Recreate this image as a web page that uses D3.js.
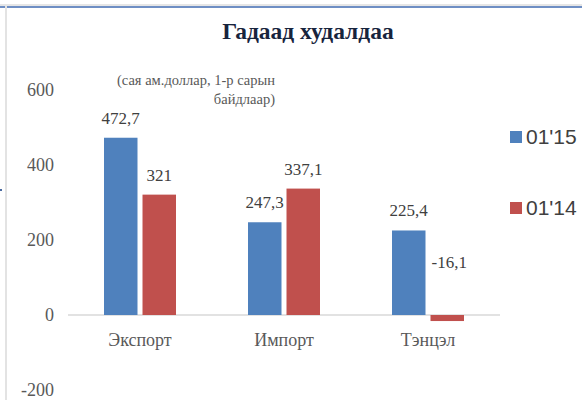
<!DOCTYPE html>
<html>
<head>
<meta charset="utf-8">
<script src="https://cdn.jsdelivr.net/npm/d3@7"></script>
<style>
  body { margin: 0; background: #fff; }
  svg { display: block; }
</style>
</head>
<body>
<svg id="chart" width="582" height="400"></svg>
<script>
const width = 582;
const height = 400;

// chart data
const categories = ["Экспорт", "Импорт", "Тэнцэл"];
const seriesNames = ["01'15", "01'14"];
const values2015 = [472.7, 247.3, 225.4];
const values2014 = [321, 337.1, -16.1];
const yTicks = [-200, 0, 200, 400, 600];
const colors = ["#4f81bd", "#c0504d"];

const serif = "'Liberation Serif', 'Times New Roman', serif";

const svg = d3.select("#chart");

// frame lines (top bar + left edge)
svg.append("rect").attr("x", 0).attr("y", 4).attr("width", width).attr("height", 2).attr("fill", "#e6e6e6");
svg.append("rect").attr("x", 0).attr("y", 6).attr("width", width).attr("height", 2).attr("fill", "#6f8fc4");
svg.append("rect").attr("x", 5).attr("y", 6).attr("width", 2).attr("height", height).attr("fill", "#e3e3e3");
svg.append("rect").attr("x", 0).attr("y", 189).attr("width", 2).attr("height", 2).attr("fill", "#4a6aa0");

const x0 = d3.scaleBand()
    .domain(categories)
    .range([68, 500])
    .padding(0);

const x1 = d3.scaleBand()
    .domain(seriesNames)
    .range([36, 108])
    .paddingInner(0.13);

const y = d3.scaleLinear()
    .domain([-200, 600])
    .range([390, 90]);

// y axis labels only (hyphen minus like the original)
svg.append("g")
    .attr("transform", "translate(54,0)")
    .call(d3.axisLeft(y).tickValues(yTicks).tickSize(0).tickPadding(0).tickFormat(d => String(d)))
    .call(g => g.select(".domain").remove())
    .selectAll("text")
    .attr("font-family", serif)
    .attr("font-size", "18px")
    .attr("fill", "#595959");

// zero line
svg.append("line")
    .attr("x1", 68).attr("x2", 500)
    .attr("y1", y(0)).attr("y2", y(0))
    .attr("stroke", "#d9d9d9")
    .attr("stroke-width", 1.5);

const rows = categories.map((c, i) => ({
    category: c,
    vals: [values2015[i], values2014[i]]
}));

const groups = svg.selectAll(".grp")
    .data(rows)
    .join("g")
    .attr("class", "grp")
    .attr("transform", d => `translate(${x0(d.category)},0)`);

groups.selectAll("rect")
    .data(d => d.vals.map((v, j) => ({ series: seriesNames[j], value: v, j })))
    .join("rect")
    .attr("x", d => x1(d.series))
    .attr("y", d => y(Math.max(0, d.value)))
    .attr("width", x1.bandwidth())
    .attr("height", d => Math.abs(y(d.value) - y(0)))
    .attr("fill", d => colors[d.j]);

// value labels (comma decimal)
const fmt = v => String(v).replace(".", ",");
groups.selectAll(".val")
    .data(d => d.vals.map((v, j) => ({ series: seriesNames[j], value: v, j })))
    .join("text")
    .attr("class", "val")
    .attr("x", d => x1(d.series) + x1.bandwidth() / 2 + (d.value < 0 ? 2 : 0))
    .attr("y", d => d.value < 0 ? y(0) - 47 : y(d.value) - 14)
    .attr("text-anchor", "middle")
    .attr("font-family", serif)
    .attr("font-size", "17px")
    .attr("fill", "#404040")
    .text(d => fmt(d.value));

// category labels
svg.selectAll(".cat")
    .data(categories)
    .join("text")
    .attr("class", "cat")
    .attr("x", d => x0(d) + x0.bandwidth() / 2)
    .attr("y", 346)
    .attr("text-anchor", "middle")
    .attr("font-family", serif)
    .attr("font-size", "18px")
    .attr("fill", "#595959")
    .text(d => d);

// title
svg.append("text")
    .attr("x", 308)
    .attr("y", 39)
    .attr("text-anchor", "middle")
    .attr("font-family", serif)
    .attr("font-size", "23.5px")
    .attr("font-weight", "bold")
    .attr("fill", "#17243d")
    .text("Гадаад худалдаа");

// unit note
const note = svg.append("text")
    .attr("text-anchor", "end")
    .attr("font-family", serif)
    .attr("font-size", "14.5px")
    .attr("fill", "#595959");
note.append("tspan").attr("x", 275).attr("y", 85).text("(сая ам.доллар, 1-р сарын");
note.append("tspan").attr("x", 275).attr("y", 104).text("байдлаар)");

// legend
const legend = svg.selectAll(".leg")
    .data(seriesNames)
    .join("g")
    .attr("class", "leg")
    .attr("transform", (d, i) => `translate(510,${131 + i * 71})`);

legend.append("rect")
    .attr("width", 12)
    .attr("height", 12)
    .attr("fill", (d, i) => colors[i]);

legend.append("text")
    .attr("x", 16)
    .attr("y", 13)
    .attr("font-family", "'Liberation Sans', Arial, sans-serif")
    .attr("font-size", "21px")
    .attr("fill", "#404040")
    .text(d => d);
</script>
</body>
</html>
